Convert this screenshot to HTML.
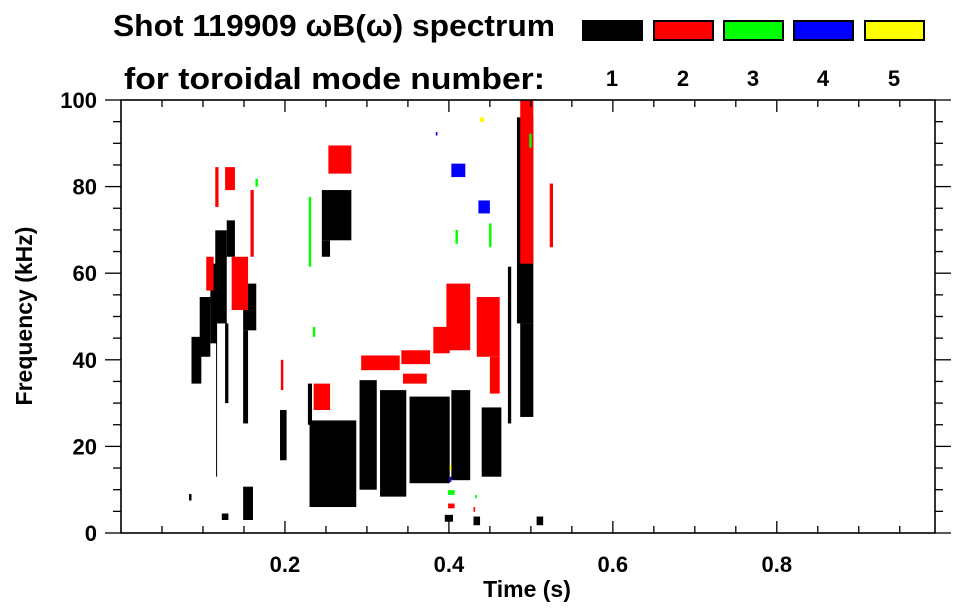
<!DOCTYPE html>
<html><head><meta charset="utf-8"><style>
body{margin:0;background:#fff;width:963px;height:615px;overflow:hidden}
svg{display:block;font-family:"Liberation Sans",Arial,sans-serif;font-weight:bold}
</style></head><body>
<svg id="chart" width="963" height="615" viewBox="0 0 963 615" xmlns="http://www.w3.org/2000/svg">
<text x="113" y="36" font-size="31" textLength="442" lengthAdjust="spacingAndGlyphs">Shot 119909 ωB(ω) spectrum</text>
<text x="124" y="89" font-size="31" textLength="421" lengthAdjust="spacingAndGlyphs">for toroidal mode number:</text>
<g id="legend"></g>
<g id="marks"></g>
<g id="axes"></g>
<text x="527" y="597" font-size="23" text-anchor="middle">Time (s)</text>
<text transform="translate(32,316) rotate(-90)" font-size="23" text-anchor="middle">Frequency (kHz)</text>
</svg>
<script>
const modeLabels=["1","2","3","4","5"];
const modeColors=["#000000","#ff0000","#00ff00","#0000ff","#ffff00"];
const xTicks=[0.2,0.4,0.6,0.8];
const yTicks=[0,20,40,60,80,100];
// [t0,t1,f0,f1] in seconds / kHz
const mode1=[[.086,.098,34.5,45.3],[.096,.109,40.7,54.5],[.109,.117,43.8,62.2],[.115,.129,48.4,69.9],[.116,.117,13,48.4],[.129,.139,63.8,72.2],[.127,.131,30,48.4],[.149,.165,46.8,57.6],[.149,.155,25.3,46.8],[.149,.161,3,10.7],[.123,.131,3,4.5],[.194,.202,16.8,28.4],[.245,.281,67.6,79.2],[.245,.255,63.8,67.6],[.228,.233,25,34.5],[.23,.287,6,26],[.291,.312,10,35.3],[.316,.348,8.4,33],[.352,.401,11.5,31.5],[.403,.426,12.2,33],[.44,.464,13,29],[.483,.503,48.4,96],[.487,.503,26.8,48.4],[.472,.476,25.3,61.5],[.395,.405,2.6,4.2],[.43,.438,1.8,3.8],[.507,.515,1.8,3.8],[.083,.086,7.5,9]];
const mode2=[[.115,.119,75.3,84.5],[.127,.139,79.2,84.5],[.135,.155,51.5,63.8],[.158,.162,63.8,79.2],[.104,.113,56,63.8],[.253,.281,83,89.5],[.235,.255,28.4,34.5],[.293,.34,37.6,41],[.342,.377,39,42.2],[.381,.401,41.5,47.6],[.397,.426,42.2,57.6],[.434,.462,40.7,54.5],[.45,.462,32.2,40.7],[.487,.503,62.2,100],[.523,.527,66,80.7],[.399,.407,5.7,6.8],[.195,.198,33,40],[.344,.373,34.5,36.8],[.43,.432,4.9,6]];
const mode3=[[.399,.407,8.8,9.9],[.229,.232,61.5,77.6],[.498,.501,89,92.2],[.449,.452,66,71.5],[.408,.411,66.8,70],[.164,.167,80,81.8],[.234,.237,45.3,47.6],[.432,.434,8,8.8]];
const mode4=[[.403,.42,82.2,85.3],[.436,.45,73.8,76.8],[.401,.403,11.8,13],[.384,.386,91.8,92.6]];
const mode5=[[.438,.443,94.9,96],[.401,.403,14.5,15.7]];
const modes=[mode1,mode2,mode3,mode4,mode5];

const NS="http://www.w3.org/2000/svg";
const L=121,R=935,T=100,B=533,XMIN=0,XMAX=0.993,YMIN=0,YMAX=100;
function xs(t){return L+(t-XMIN)/(XMAX-XMIN)*(R-L);}
function ys(f){return B-(f-YMIN)/(YMAX-YMIN)*(B-T);}
function mk(tag,a,parent){const e=document.createElementNS(NS,tag);for(const k in a)e.setAttribute(k,a[k]);parent.appendChild(e);return e;}

const marks=document.getElementById('marks');
modes.forEach((arr,mi)=>{arr.forEach(d=>{
  const r=mk('rect',{x:xs(d[0]),y:ys(d[3]),width:Math.max(1,xs(d[1])-xs(d[0])),height:Math.max(1,ys(d[2])-ys(d[3])),fill:modeColors[mi]},marks);
  
  
});});

const lg=document.getElementById('legend');
const boxX=[582,653,723,793,864];
modeLabels.forEach((m,i)=>{
  const r=mk('rect',{x:boxX[i]+1,y:21,width:59,height:19,fill:modeColors[i],stroke:'#000','stroke-width':2},lg);
  
  
  const t=mk('text',{x:boxX[i]+30,y:86,'font-size':22,'text-anchor':'middle'},lg);
  t.textContent=m;
  
  
});

const ax=document.getElementById('axes');
mk('rect',{x:L,y:T,width:R-L,height:B-T,fill:'none',stroke:'#000','stroke-width':1.6},ax);
for(let t=0.05;t<XMAX;t+=0.05){
  const X=xs(t);const maj=Math.abs(t/0.2-Math.round(t/0.2))<1e-6;const len=maj?12:7;
  mk('line',{x1:X,x2:X,y1:B,y2:B-len,stroke:'#000','stroke-width':1.3},ax);
  mk('line',{x1:X,x2:X,y1:T,y2:T+len,stroke:'#000','stroke-width':1.3},ax);
}
for(let f=0;f<=100;f+=5){
  const Y=ys(f);const maj=f%20===0;const len=maj?16:8;
  mk('line',{x1:L-len,x2:L,y1:Y,y2:Y,stroke:'#000','stroke-width':1.3},ax);
  mk('line',{x1:R,x2:R+len,y1:Y,y2:Y,stroke:'#000','stroke-width':1.3},ax);
}
xTicks.forEach(v=>{
  const t=mk('text',{x:xs(v),y:572,'font-size':22,'text-anchor':'middle'},ax);
  t.textContent=v.toFixed(1);
  
  
});
yTicks.forEach(v=>{
  const t=mk('text',{x:97,y:ys(v)+8,'font-size':22,'text-anchor':'end'},ax);
  t.textContent=String(v);
  
  
});
</script>
</body></html>
